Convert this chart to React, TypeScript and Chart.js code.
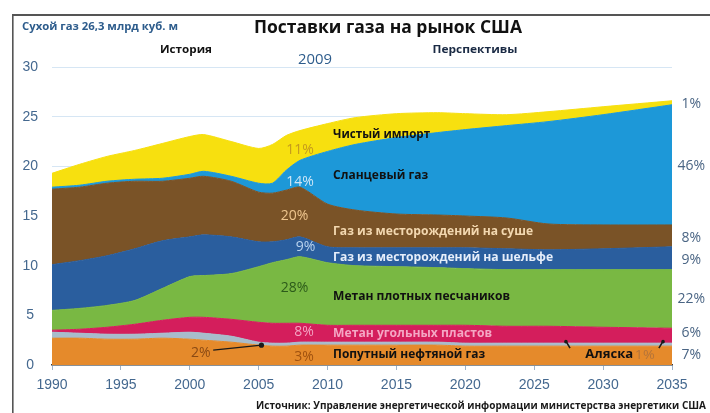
import React, { useEffect, useRef } from "react";
import { Chart, registerables } from "chart.js";

Chart.register(...registerables);

// ---- data (trillion cubic feet, stacked layers, bottom to top) ----
const years = [1990, 1992, 1994, 1996, 1998, 2000, 2001, 2003, 2005, 2006, 2007, 2008, 2010, 2012, 2015, 2018, 2020, 2023, 2026, 2030, 2035];
const associatedGas = [2.7, 2.7, 2.6, 2.6, 2.7, 2.6, 2.5, 2.3, 2.0, 1.9, 1.9, 2.0, 2.0, 2.0, 2.0, 2.0, 1.9, 1.9, 1.9, 1.9, 1.9];
const alaska = [0.6, 0.5, 0.5, 0.5, 0.5, 0.7, 0.7, 0.6, 0.3, 0.3, 0.3, 0.3, 0.3, 0.3, 0.3, 0.3, 0.3, 0.3, 0.3, 0.3, 0.3];
const coalbedMethane = [0.2, 0.4, 0.7, 1.0, 1.3, 1.5, 1.6, 1.7, 2.0, 2.0, 2.0, 1.9, 1.7, 1.7, 1.7, 1.7, 1.8, 1.7, 1.7, 1.6, 1.5];
const tightGas = [2.0, 2.1, 2.2, 2.4, 3.2, 4.1, 4.2, 4.6, 5.6, 6.1, 6.4, 6.7, 6.3, 6.0, 5.9, 5.8, 5.7, 5.7, 5.7, 5.8, 5.9];
const offshore = [4.6, 4.8, 5.0, 5.2, 4.8, 4.0, 4.1, 3.7, 2.5, 2.1, 2.0, 2.0, 1.6, 1.8, 1.9, 2.0, 2.1, 2.1, 2.0, 2.1, 2.3];
const onshore = [7.6, 7.4, 7.3, 6.8, 6.0, 5.9, 5.9, 5.6, 5.0, 4.9, 5.0, 5.0, 4.3, 3.8, 3.4, 3.3, 3.2, 3.1, 2.6, 2.4, 2.2];
const shaleGas = [0.2, 0.2, 0.2, 0.2, 0.3, 0.4, 0.5, 0.5, 0.9, 1.0, 2.0, 2.7, 5.3, 6.6, 7.7, 8.3, 8.7, 9.3, 10.3, 11.1, 12.1];
const netImports = [1.4, 2.1, 2.5, 2.9, 3.5, 3.8, 3.7, 3.5, 3.5, 3.9, 3.5, 3.0, 2.8, 2.7, 2.4, 2.0, 1.6, 1.1, 1.0, 0.8, 0.4];

const seriesNames = [
  "Попутный нефтяной газ",
  "Аляска",
  "Метан угольных пластов",
  "Метан плотных песчаников",
  "Газ из месторождений на шельфе",
  "Газ из месторождений на суше",
  "Сланцевый газ",
  "Чистый импорт",
];
const seriesValues = [associatedGas, alaska, coalbedMethane, tightGas, offshore, onshore, shaleGas, netImports];
const seriesColors = ["#E58A2B", "#A8BCCB", "#D41E5C", "#79B843", "#2A5E9E", "#7A5327", "#1D98D8", "#F7E00F"];

const xTicks = [1990, 1995, 2000, 2005, 2010, 2015, 2020, 2025, 2030, 2035];
const yTicks = [0, 5, 10, 15, 20, 25, 30];

const share2009 = ["3%", "8%", "28%", "9%", "20%", "14%", "11%"];
const share2035 = ["7%", "6%", "22%", "9%", "8%", "46%", "1%"];

const titleText = "Поставки газа на рынок США";
const unitText = "Сухой газ 26,3 млрд куб. м";
const historyText = "История";
const yearText = "2009";
const outlookText = "Перспективы";
const sourceText = "Источник: Управление энергетической информации министерства энергетики США";

// ---- annotation placement (data coordinates) ----
type Ann = { text: string; x: number; y: number; w?: number; size: number; weight: string; color: string; align: CanvasTextAlign };
const seriesLabelLayout: Ann[] = [
  { text: seriesNames[7], x: 2010.4, y: 23.2, w: 97, size: 12, weight: "bold", color: "#111", align: "left" },
  { text: seriesNames[6], x: 2010.4, y: 19.1, w: 95, size: 12, weight: "bold", color: "#111", align: "left" },
  { text: seriesNames[5], x: 2010.4, y: 13.4, w: 200, size: 12, weight: "bold", color: "#F3D8B0", align: "left" },
  { text: seriesNames[4], x: 2010.4, y: 10.8, w: 220, size: 12, weight: "bold", color: "#E6EEFA", align: "left" },
  { text: seriesNames[3], x: 2010.4, y: 6.85, w: 177, size: 12, weight: "bold", color: "#111", align: "left" },
  { text: seriesNames[2], x: 2010.4, y: 3.2, w: 159, size: 12, weight: "bold", color: "#F4A7C4", align: "left" },
  { text: seriesNames[0], x: 2010.4, y: 1.0, w: 152, size: 12, weight: "bold", color: "#111", align: "left" },
  { text: "Аляска", x: 2028.7, y: 1.0, w: 48, size: 12, weight: "bold", color: "#111", align: "left" },
  { text: "1%", x: 2032.3, y: 1.0, w: 20, size: 13, weight: "normal", color: "#B4743A", align: "left" },
];
const share2009Layout = [
  { x: 2008.3, y: 0.8, color: "#A0520F" },
  { x: 2008.3, y: 3.3, color: "#F3A3C2" },
  { x: 2007.6, y: 7.75, color: "#2C5A1A" },
  { x: 2008.4, y: 11.9, color: "#B9D3EE" },
  { x: 2007.6, y: 15.0, color: "#EFC68E" },
  { x: 2008.0, y: 18.4, color: "#CFE6F6" },
  { x: 2008.0, y: 21.65, color: "#C49A1E" },
];
const share2035Y = [1.0, 3.2, 6.65, 10.6, 12.8, 20.0, 26.3];

function drawText(
  ctx: CanvasRenderingContext2D,
  text: string,
  x: number,
  y: number,
  size: number,
  weight: string,
  color: string,
  align: CanvasTextAlign,
  width?: number,
  family = "'Open Sans', 'DejaVu Sans', sans-serif"
) {
  ctx.save();
  ctx.font = `${weight} ${size}px ${family}`;
  ctx.fillStyle = color;
  ctx.textBaseline = "middle";
  ctx.textAlign = "left";
  const m = ctx.measureText(text).width;
  const sx = width ? width / m : 1;
  const w = m * sx;
  const left = align === "center" ? x - w / 2 : align === "right" ? x - w : x;
  ctx.translate(left, y);
  ctx.scale(sx, 1);
  ctx.fillText(text, 0, 0);
  ctx.restore();
}

const decorPlugin = {
  id: "decor",
  beforeDraw(chart: any) {
    const ctx = chart.ctx as CanvasRenderingContext2D;
    ctx.save();
    ctx.fillStyle = "#fff";
    ctx.fillRect(0, 0, chart.width, chart.height);
    ctx.restore();
  },
  afterDraw(chart: any) {
    const ctx = chart.ctx as CanvasRenderingContext2D;
    const xs = chart.scales.x;
    const ys = chart.scales.y;
    const px = (v: number) => xs.getPixelForValue(v);
    const py = (v: number) => ys.getPixelForValue(v);

    // frame
    ctx.save();
    ctx.fillStyle = "#555";
    ctx.fillRect(12, 14, chart.width - 12, 2);
    ctx.fillRect(12, 14, 1.6, chart.height - 14);
    ctx.restore();

    // header
    drawText(ctx, titleText, 388, 28, 18, "bold", "#111", "center", 268);
    drawText(ctx, unitText, 22, 27, 10, "bold", "#2D5C8C", "left", 156);
    drawText(ctx, historyText, 186, 50, 11, "bold", "#111", "center", 52);
    drawText(ctx, yearText, 315, 60, 14, "normal", "#2D5C8C", "center", 34);
    drawText(ctx, outlookText, 475, 50, 11, "bold", "#1a2a44", "center", 85);
    drawText(ctx, sourceText, 706, 406, 10, "bold", "#1a1a1a", "right", 450);

    // series labels
    for (const a of seriesLabelLayout) {
      drawText(ctx, a.text, px(a.x), py(a.y), a.size, a.weight, a.color, a.align, a.w);
    }
    // 2009 shares
    share2009.forEach((t, i) => {
      const l = share2009Layout[i];
      drawText(ctx, t, px(l.x), py(l.y), 14, "normal", l.color, "center");
    });
    // 2035 shares
    share2035.forEach((t, i) => {
      drawText(ctx, t, px(2036.4), py(share2035Y[i]), 14, "normal", "#4A6584", "center");
    });

    // 2% with arrow to Alaska band
    drawText(ctx, "2%", px(2000.8), py(1.2), 14, "normal", "#8A4A14", "center");
    ctx.save();
    ctx.strokeStyle = "#1a1a1a";
    ctx.lineWidth = 1.3;
    ctx.beginPath();
    ctx.moveTo(px(2001.7), py(1.5));
    ctx.lineTo(px(2005.2), py(2.0));
    ctx.stroke();
    ctx.fillStyle = "#1a1a1a";
    ctx.beginPath();
    ctx.arc(px(2005.2), py(2.0), 2.6, 0, Math.PI * 2);
    ctx.fill();
    // Alaska pointers
    ctx.lineWidth = 1.6;
    ctx.beginPath();
    ctx.moveTo(px(2027.6), py(1.7));
    ctx.lineTo(px(2027.3), py(2.4));
    ctx.moveTo(px(2034.05), py(1.7));
    ctx.lineTo(px(2034.35), py(2.4));
    ctx.stroke();
    ctx.beginPath();
    ctx.arc(px(2027.3), py(2.35), 1.8, 0, Math.PI * 2);
    ctx.arc(px(2034.35), py(2.35), 1.8, 0, Math.PI * 2);
    ctx.fill();
    ctx.restore();
  },
};

export default function App() {
  const ref = useRef<HTMLCanvasElement | null>(null);

  useEffect(() => {
    if (!ref.current) return;
    const tickColor = "#44688F";
    const tickFont = { family: "'Liberation Sans', Arial, sans-serif", size: 14 };
    const chart = new Chart(ref.current, {
      type: "line",
      data: {
        datasets: seriesValues.map((vals, i) => ({
          label: seriesNames[i],
          data: years.map((yr, j) => ({ x: yr, y: vals[j] })),
          backgroundColor: seriesColors[i],
          borderColor: seriesColors[i],
          borderWidth: 1,
          pointRadius: 0,
          tension: 0.25,
          fill: i === 0 ? "origin" : "-1",
        })),
      },
      options: {
        responsive: false,
        animation: false,
        layout: { padding: { left: 8, right: 38, top: 67, bottom: 0 } },
        plugins: { legend: { display: false }, tooltip: { enabled: false } },
        scales: {
          x: {
            type: "linear",
            min: 1990,
            max: 2035,
            afterBuildTicks: (s: any) => {
              s.ticks = xTicks.map((v) => ({ value: v }));
            },
            afterFit: (s: any) => {
              s.height = 48;
            },
            ticks: {
              callback: (v: any) => String(v),
              color: tickColor,
              font: tickFont,
              padding: 7,
              maxRotation: 0,
              autoSkip: false,
            },
            grid: { drawOnChartArea: false, drawTicks: true, tickLength: 5, color: "#9DB4CC" },
            border: { display: true, color: "#3a3a3a", width: 1.5 },
          },
          y: {
            stacked: true,
            min: 0,
            max: 30,
            afterBuildTicks: (s: any) => {
              s.ticks = yTicks.map((v) => ({ value: v }));
            },
            afterFit: (s: any) => {
              s.width = 44;
            },
            ticks: {
              color: tickColor,
              font: tickFont,
              padding: 14,
              crossAlign: "center",
            },
            grid: { color: "#D6E6F4", drawTicks: false },
            border: { display: false },
          },
        },
      } as any,
      plugins: [decorPlugin],
    });
    return () => chart.destroy();
  }, []);

  return (
    <div style={{ position: "fixed", left: 0, top: 0, width: 710, height: 413, background: "#fff" }}>
      <canvas ref={ref} width={710} height={413} />
    </div>
  );
}
